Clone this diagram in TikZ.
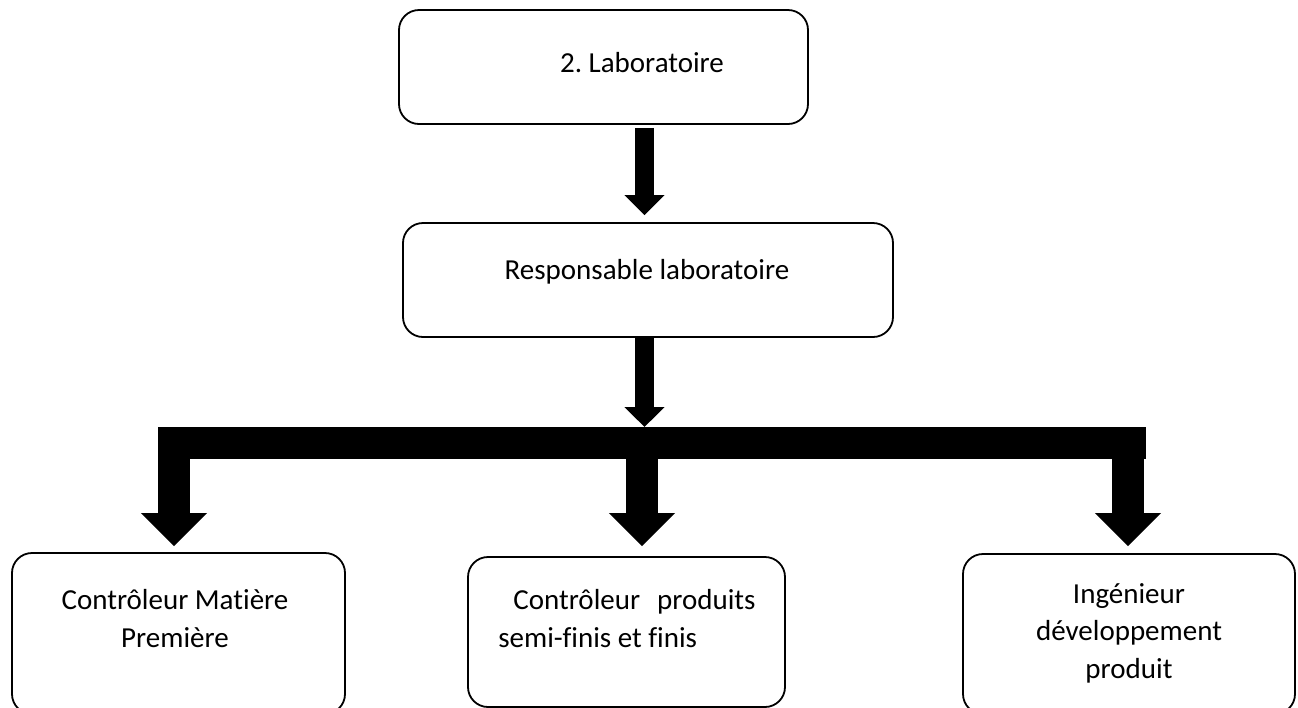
\documentclass[tikz,border=0pt]{standalone}
\usepackage{fontspec}
\setmainfont{Carlito}[Ligatures=CommonOff]
\usetikzlibrary{arrows.meta}

\tikzset{
  box/.style = {draw, line width=0.9pt, rounded corners=10pt, inner sep=0pt},
  txt/.style = {anchor=base, inner sep=0pt, font=\fontsize{14.5}{18.6}\selectfont},
  stem/.style = {line width=9.5pt, -{Triangle[width=19.5pt, length=10pt]}},
  bar/.style = {line width=16pt},
  branch/.style = {line width=16pt, -{Triangle[width=32pt, length=16.5pt]}}
}

\begin{document}
\frenchspacing
\begin{tikzpicture}[x = {(0.5pt, 0pt)}, y = {(0pt, -0.5pt)}]
  \useasboundingbox (0, 0) rectangle (1298, 708);

  \node[box, minimum width=204.5pt, minimum height=57pt] (b1) at (603.5, 67) {};
  \node[txt] (t1) at (642, 72) {2. Laboratoire};

  \node[box, minimum width=245pt, minimum height=57pt] (b2) at (648, 280) {};
  \node[txt] (t2) at (647, 279) {Responsable laboratoire};

  \node[box, minimum width=166.5pt, minimum height=80.5pt] (b3) at (178.5, 633.5) {};
  \node[txt, align=center] (t3) at (175, 647) {Contrôleur Matière\\Première};

  \node[box, minimum width=158.5pt, minimum height=75pt] (b4) at (626.5, 632) {};
  \node[txt, align=left, anchor=base west] (t4) at (498, 647) {\hspace*{7.5pt}Contrôleur\hspace{8.5pt}produits\\semi-finis et finis};

  \node[box, minimum width=166pt, minimum height=80pt] (b5) at (1129, 634) {};
  \node[txt, align=center] (t5) at (1129, 678) {Ingénieur\\développement\\produit};

  % hub where the stem meets the bar
  \coordinate (hub) at (644.5, 427);
  \draw[stem, shorten <=1.5pt, shorten >=3.5pt] (b1.south -| hub) -- (b2.north -| hub);
  \draw[stem] (b2.south -| hub) -- (hub);

  \coordinate (barL) at (158, 443);
  \coordinate (barR) at (1146, 443);
  \draw[bar] (barL) -- (barR);

  \coordinate (j1) at (174, 443);
  \coordinate (j2) at (642, 443);
  \coordinate (j3) at (1128, 443);
  \draw[branch, shorten >=3pt] (j1) -- (j1 |- b3.north);
  \draw[branch, shorten >=5pt] (j2) -- (j2 |- b4.north);
  \draw[branch, shorten >=3.5pt] (j3) -- (j3 |- b5.north);
\end{tikzpicture}
\end{document}
